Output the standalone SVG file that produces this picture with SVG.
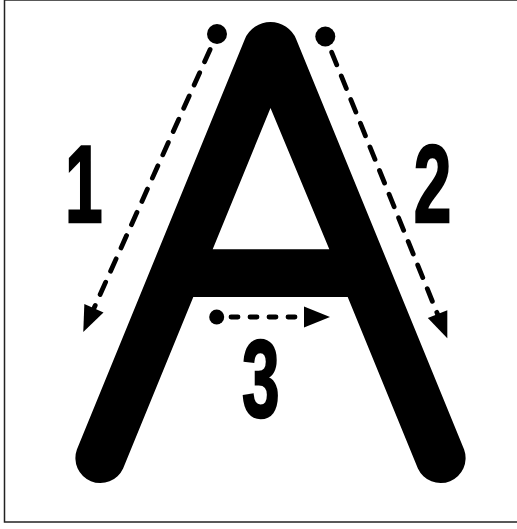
<svg xmlns="http://www.w3.org/2000/svg" width="517" height="529" viewBox="0 0 517 529">
  <style>
    .num { font-family: "Liberation Sans", Arial, sans-serif; font-weight: bold; font-size: 109px; fill: #000; stroke: #000; stroke-width: 2.5; stroke-linejoin: miter; text-anchor: middle; }
    .dash { fill: none; stroke: #000; stroke-width: 4.8; stroke-linecap: round; }
    .dot { fill: #000; }
  </style>
  <defs>
    <marker id="ah" markerUnits="userSpaceOnUse" markerWidth="30" markerHeight="24" refX="2" refY="12" orient="auto" overflow="visible">
      <path d="M0,1.5 L26,12 L0,22.5 Z" fill="#000"/>
    </marker>
  </defs>
  <rect x="0" y="0" width="517" height="529" fill="#fff"/>
  <rect x="4.5" y="0" width="540" height="522" fill="none" stroke="#222" stroke-width="1.5"/>

  <g id="letterA">
    <path fill="#000" fill-rule="evenodd" d="M76.9,449.5 L244.7,39.4 A27.9,27.9 0 0 1 296.3,39.4 L464.1,449.5 A25,25 0 0 1 417.9,468.5 L347.7,297 L193.3,297 L123.1,468.5 A25,25 0 0 1 76.9,449.5 Z M270.5,108 L329.3,249.3 L212.7,249.3 Z"/>
  </g>

  <g id="connectors">
    <g id="stroke1">
      <circle class="dot" cx="217" cy="34" r="10"/>
      <path class="dash" stroke-dasharray="13.5 12" d="M210.1,49.5 L93.1,310.1" marker-end="url(#ah)"/>
    </g>
    <g id="stroke2">
      <circle class="dot" cx="325.3" cy="36.5" r="10"/>
      <path class="dash" stroke-dasharray="13.5 12" d="M331.7,52.3 L438.3,316" marker-end="url(#ah)"/>
    </g>
    <g id="stroke3">
      <circle class="dot" cx="216.7" cy="317" r="7.5"/>
      <path class="dash" stroke-dasharray="7 12" d="M231,317 L306,317" marker-end="url(#ah)"/>
    </g>
  </g>

  <g id="labels">
    <text class="num" transform="translate(83.7,221.5) scale(0.62,1)">1</text>
    <text class="num" transform="translate(432.5,221.5) scale(0.62,1)">2</text>
    <text class="num" transform="translate(260.8,417.3) scale(0.62,1)">3</text>
  </g>
</svg>
